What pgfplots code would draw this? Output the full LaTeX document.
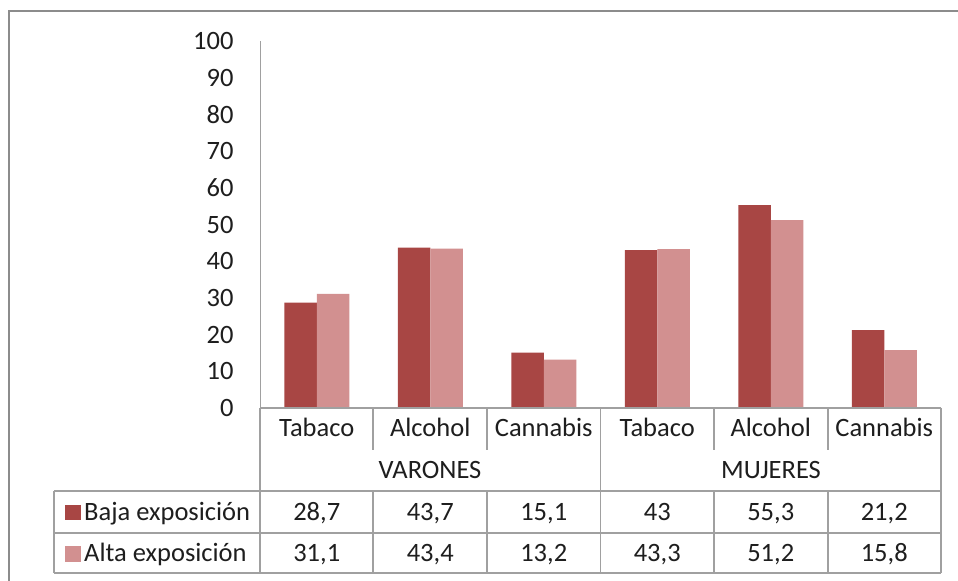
\documentclass[border=0pt]{standalone}
\usepackage{pgfplots}
\pgfplotsset{compat=1.18}
\usepackage{fontspec}
\setmainfont{Carlito}
\definecolor{baja}{HTML}{A84644}
\definecolor{alta}{HTML}{D29090}
\definecolor{gridg}{HTML}{A0A0A0}
\definecolor{frameg}{HTML}{8C8C8C}
\definecolor{txt}{HTML}{1E1E1E}
\begin{document}
\begin{tikzpicture}[font=\fontsize{26.5bp}{30bp}\selectfont, text=txt]
\useasboundingbox (0,0) rectangle (958bp,581bp);
\clip (0,0) rectangle (958bp,581bp);
\fill[white] (0,0) rectangle (958bp,581bp);
% outer frame
\draw[frameg, line width=2.2bp] (9bp,-5bp) -- (9bp,570bp) -- (970bp,570bp);
\begin{axis}[
  at={(260bp,173bp)}, anchor=origin,
  scale only axis, width=681bp, height=367bp,
  xmin=0, xmax=6, ymin=0, ymax=100,
  ybar=0pt, bar width=32.5bp,
  axis x line=none,
  axis y line*=left,
  y axis line style={gridg, line width=1bp, -},
  ytick={0,10,...,100}, major tick length=0pt,
  yticklabel style={font=\fontsize{26.5bp}{30bp}\selectfont, text=txt, xshift=-23bp},
  /pgf/number format/assume math mode=true,
  clip=false,
]
\addplot[fill=baja, draw=none] coordinates {(0.5,28.7) (1.5,43.7) (2.5,15.1) (3.5,43) (4.5,55.3) (5.5,21.2)};
\addplot[fill=alta, draw=none] coordinates {(0.5,31.1) (1.5,43.4) (2.5,13.2) (3.5,43.3) (4.5,51.2) (5.5,15.8)};
\end{axis}
% table lines
\begin{scope}[gridg, line width=1.2bp]
\draw (260bp,173bp) -- (941bp,173bp);
\foreach \x in {373,487,714,828} \draw (\x bp,173bp) -- (\x bp,131bp);
\foreach \x in {260,600.5,941} \draw (\x bp,173bp) -- (\x bp,8bp);
\foreach \x in {373,487,714,828} \draw (\x bp,90bp) -- (\x bp,8bp);
\draw (54bp,90bp) -- (54bp,8bp);
\foreach \y in {90,48,8} \draw (54bp,\y bp) -- (941bp,\y bp);
\end{scope}
% category labels
\foreach \c/\lab in {0/Tabaco,1/Alcohol,2/Cannabis,3/Tabaco,4/Alcohol,5/Cannabis}
  \node[anchor=base, inner sep=0pt] at ({(260+113.5*\c+56.75)*1bp},144bp) {\lab};
\node[anchor=base, inner sep=0pt] at (430bp,102bp) {VARONES};
\node[anchor=base, inner sep=0pt] at (771bp,102bp) {MUJERES};
% data rows
\foreach \c/\v in {0/{28,7},1/{43,7},2/{15,1},3/{43},4/{55,3},5/{21,2}}
  \node[anchor=base, inner sep=0pt] at ({(260+113.5*\c+56.75)*1bp},60bp) {\v};
\foreach \c/\v in {0/{31,1},1/{43,4},2/{13,2},3/{43,3},4/{51,2},5/{15,8}}
  \node[anchor=base, inner sep=0pt] at ({(260+113.5*\c+56.75)*1bp},20bp) {\v};
% legend keys
\fill[baja] (65bp,61bp) rectangle (81bp,76bp);
\fill[alta] (65bp,19bp) rectangle (81bp,35bp);
\node[anchor=base west, inner sep=0pt] at (84bp,60bp) {Baja exposición};
\node[anchor=base west, inner sep=0pt] at (84bp,20bp) {Alta exposición};
\end{tikzpicture}
\end{document}
